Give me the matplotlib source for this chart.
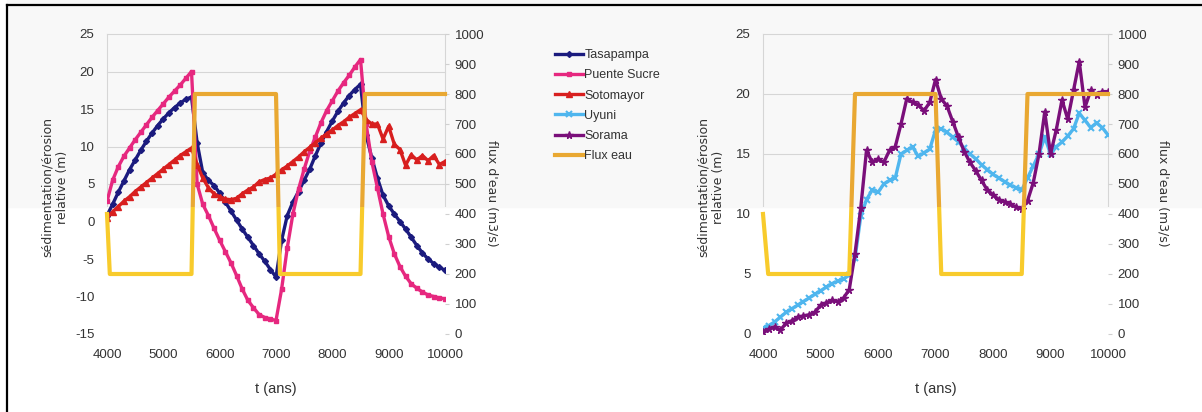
import numpy as np
import matplotlib.pyplot as plt
from matplotlib.lines import Line2D
from matplotlib.patches import Rectangle
from matplotlib.transforms import Bbox, TransformedBbox

# time axis (years) for the modelled series
t = np.arange(4000, 10001, 100)

tasapampa = [0.8, 2.3, 3.9, 5.4, 6.9, 8.2, 9.5, 10.7, 11.8, 12.8, 13.7, 14.5, 15.2, 15.8, 16.3, 16.6,
             10.5, 6.5, 5.5, 4.8, 3.8, 2.6, 1.4, 0.2, -1.0, -2.1, -3.2, -4.3, -5.3, -6.4, -7.4,
             -2.5, 0.8, 2.6, 4.0, 5.5, 7.0, 8.8, 10.5, 12.0, 13.4, 14.7, 15.8, 16.8, 17.6, 18.3,
             11.5, 8.5, 5.8, 3.5, 2.1, 1.0, 0.0, -1.0, -2.1, -3.2, -4.2, -5.0, -5.6, -6.1, -6.5]
puente_sucre = [2.7, 5.5, 7.3, 8.7, 9.8, 10.9, 11.9, 12.9, 13.9, 14.8, 15.7, 16.6, 17.4, 18.2, 19.1, 20.0,
                5.0, 2.3, 0.8, -0.9, -2.5, -4.0, -5.5, -7.2, -9.0, -10.5, -11.5, -12.4, -12.8, -13.0, -13.2,
                -9.0, -3.5, 1.0, 4.3, 7.0, 9.4, 11.3, 13.2, 14.8, 16.1, 17.4, 18.5, 19.5, 20.6, 21.6,
                13.0, 8.0, 4.5, 1.0, -2.0, -4.3, -6.0, -7.3, -8.3, -8.9, -9.4, -9.8, -10.0, -10.2, -10.3]
sotomayor = [0.5, 1.3, 2.0, 2.7, 3.3, 4.0, 4.6, 5.2, 5.8, 6.4, 7.0, 7.6, 8.2, 8.8, 9.3, 9.8,
             7.6, 5.8, 4.5, 3.7, 3.3, 3.0, 2.9, 3.1, 3.7, 4.2, 4.6, 5.3, 5.6, 5.8, 6.3,
             6.9, 7.4, 8.0, 8.6, 9.3, 9.9, 10.5, 11.1, 11.7, 12.2, 12.8, 13.3, 13.9, 14.4, 14.9,
             13.6, 13.0, 13.0, 11.0, 12.7, 10.3, 9.6, 7.5, 8.9, 8.2, 8.8, 8.1, 8.8, 7.6, 8.0]
uyuni = [0.5, 0.7, 1.0, 1.4, 1.8, 2.1, 2.4, 2.7, 3.0, 3.3, 3.6, 3.9, 4.2, 4.4, 4.6, 4.9,
         6.3, 9.8, 11.2, 12.0, 11.8, 12.5, 12.8, 13.0, 15.0, 15.3, 15.6, 14.8, 15.1, 15.4, 17.0,
         17.1, 16.8, 16.4, 16.0, 15.5, 15.0, 14.6, 14.1, 13.7, 13.3, 13.0, 12.7, 12.4, 12.2, 12.0,
         13.0, 14.0, 15.0, 16.4, 15.0, 15.6, 16.0, 16.5, 17.1, 18.4, 17.8, 17.2, 17.6, 17.2, 16.6]
sorama = [0.2, 0.4, 0.6, 0.3, 0.9, 1.1, 1.4, 1.5, 1.6, 1.8, 2.4, 2.6, 2.8, 2.7, 3.0, 3.7,
          6.7, 10.5, 15.3, 14.3, 14.6, 14.3, 15.3, 15.6, 17.5, 19.6, 19.3, 19.1, 18.6, 19.3, 21.2,
          19.6, 19.0, 17.7, 16.4, 15.2, 14.3, 13.6, 12.8, 12.0, 11.6, 11.2, 11.0, 10.8, 10.6, 10.4,
          11.1, 12.6, 15.0, 18.5, 15.0, 17.0, 19.5, 17.9, 20.3, 22.7, 18.9, 20.3, 19.9, 20.2, 20.2]

# water flux (m3/s), step changes
t_flux_a = [4000, 4050, 5500, 5560, 7000, 7070, 8500, 8580, 10000]
t_flux_b = [4000, 4090, 5500, 5600, 7000, 7100, 8500, 8600, 10000]
flux = [400, 200, 200, 800, 800, 200, 200, 800, 800]

W, H = 1202, 412
TXT = '#333333'
ORANGE = '#e9a832'
YELLOW = '#f8cb2c'
GRID = '#d6d6d6'
FS = 9.5

plt.rcParams['font.family'] = ['Liberation Sans', 'DejaVu Sans']
plt.rcParams['axes.unicode_minus'] = False
fig = plt.figure(figsize=(W / 100, H / 100), dpi=100)

# the scan has a slightly grey upper band where light lines still show
band = 207
top_clip = TransformedBbox(Bbox([[0, 1 - band / H], [1, 1]]), fig.transFigure)
low_clip = TransformedBbox(Bbox([[0, 0], [1, 1 - band / H]]), fig.transFigure)
fig.add_artist(Rectangle((7 / W, 1 - band / H), 1, band / H, transform=fig.transFigure,
                         color='#f8f8f8', zorder=-5))

# black frame (left and top)
fig.add_artist(Line2D([7 / W, 7 / W], [0, 1 - 5 / H], transform=fig.transFigure, color='black', lw=1.6))
fig.add_artist(Line2D([7 / W, 1], [1 - 5 / H, 1 - 5 / H], transform=fig.transFigure, color='black', lw=1.6))

styles = {
    'Tasapampa': dict(color='#1b1b7e', marker='D', ms=3),
    'Puente Sucre': dict(color='#e6287f', marker='s', ms=3.5),
    'Sotomayor': dict(color='#d81f1f', marker='^', ms=4.5),
    'Uyuni': dict(color='#4fb6ee', marker='x', ms=4, mew=1.5),
    'Sorama': dict(color='#7a0f7a', marker='*', ms=5.5),
}


def panel(left_px, width_px, series, ylim, yticks, t_flux, lab_left, lab_right):
    ax = fig.add_axes([left_px / W, 1 - 334 / H, width_px / W, 300 / H])
    ax.set_facecolor('none')
    for sp in ax.spines.values():
        sp.set_visible(False)
    ax.set_xlim(4000, 10000)
    ax.set_ylim(*ylim)
    ax.set_xticks(range(4000, 10001, 1000))
    ax.set_yticks(yticks)
    ax.tick_params(axis='x', length=0, labelsize=FS, colors=TXT, pad=11)
    ax.tick_params(axis='y', length=0, labelsize=FS, colors=TXT, pad=9)

    for v in yticks:
        ln = ax.axhline(v, color=GRID, lw=0.8, zorder=0)
        ln.set_clip_box(top_clip)
    for x in (4000, 10000):
        ln = ax.axvline(x, color=GRID, lw=0.8, zorder=0)
        ln.set_clip_box(top_clip)

    handles = []
    for name, vals in series:
        h, = ax.plot(t, vals, lw=2.4, label=name, **styles[name])
        handles.append(h)

    ax.set_xlabel('t (ans)', fontsize=10.5, color=TXT)
    ax.xaxis.set_label_coords(0.5, -0.16)
    ax.set_ylabel('sédimentation/érosion\nrelative (m)', family='DejaVu Sans', fontsize=9,
                  color=TXT, linespacing=1.25, ha='center', va='center')
    ax.yaxis.set_label_coords(lab_left, 0.49)

    ax2 = ax.twinx()
    ax2.set_facecolor('none')
    for sp in ax2.spines.values():
        sp.set_visible(False)
    ax2.set_ylim(0, 1000)
    ax2.set_yticks(range(0, 1001, 100))
    ax2.tick_params(axis='y', length=3, labelsize=FS, colors=TXT, pad=4)
    ax2.tick_params(axis='y', color='#d0d0d0')
    fl, = ax2.plot(t_flux, flux, color=ORANGE, lw=3, label='Flux eau')
    fl.set_clip_box(top_clip)
    fl2, = ax2.plot(t_flux, flux, color=YELLOW, lw=3)
    fl2.set_clip_box(low_clip)
    ax2.set_ylabel("flux d'eau (m3/s)", family='DejaVu Sans', fontsize=9, color=TXT,
                   rotation=270, ha='center', va='center')
    ax2.yaxis.set_label_coords(lab_right, 0.47)
    return handles, fl


h1, flux_line = panel(107, 338, [('Tasapampa', tasapampa), ('Puente Sucre', puente_sucre),
                                 ('Sotomayor', sotomayor)],
                      (-15, 25), range(-15, 26, 5), t_flux_a, -0.155, 1.139)
h2, _ = panel(763, 345, [('Uyuni', uyuni), ('Sorama', sorama)],
              (0, 25), range(0, 26, 5), t_flux_b, -0.151, 1.159)

leg_handles = h1 + h2 + [flux_line]
fig.legend(leg_handles, [h.get_label() for h in leg_handles], loc='upper left',
           bbox_to_anchor=(555 / W, 1 - 49 / H), frameon=False, fontsize=9,
           handlelength=2.2, handletextpad=0.15, labelspacing=0.66, borderpad=0,
           borderaxespad=0, labelcolor=TXT)

fig.savefig('out.png', dpi=100)
